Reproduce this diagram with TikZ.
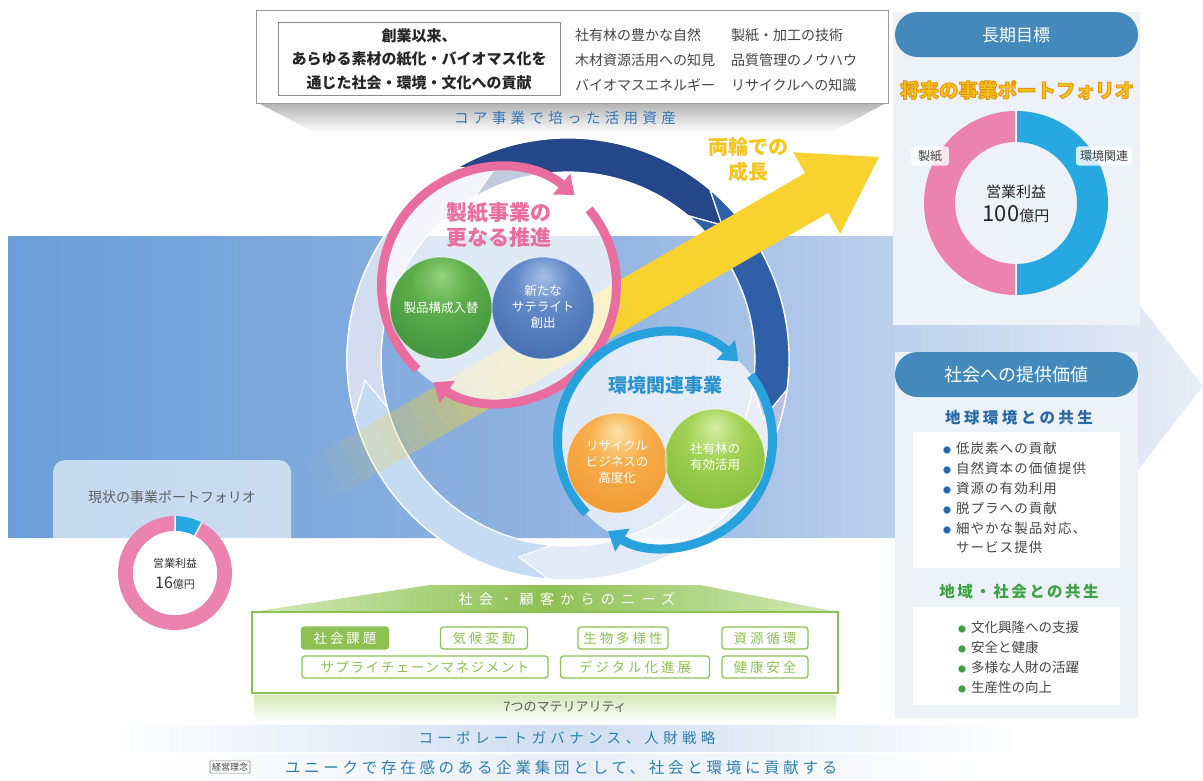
\documentclass[tikz,border=0pt]{standalone}
\usepackage{fontspec}
\setmainfont{Noto Sans CJK JP}
\usetikzlibrary{arrows.meta}

\definecolor{bandL}{HTML}{6A9ED8}
\definecolor{bandM}{HTML}{93B5E2}
\definecolor{bandR}{HTML}{E9EEF7}
\definecolor{ringfill}{HTML}{DAE5F5}
\definecolor{navy}{HTML}{23478A}
\definecolor{midblue}{HTML}{2F60A7}
\definecolor{lavender}{HTML}{B7C0E1}
\definecolor{paleblue}{HTML}{C4DBF3}
\definecolor{palelav}{HTML}{D4DCEF}
\definecolor{yel}{HTML}{F8D22E}
\definecolor{pinkc}{HTML}{E96D9E}
\definecolor{cyanc}{HTML}{28A2DC}
\definecolor{envtitle}{HTML}{2C93CF}
\definecolor{pill}{HTML}{4389BB}
\definecolor{panel}{HTML}{EDF1F8}
\definecolor{gold}{HTML}{F5C51E}
\definecolor{donutpink}{HTML}{EC82AE}
\definecolor{donutblue}{HTML}{28A8E0}
\definecolor{deepblue}{HTML}{2A69A5}
\definecolor{leaf}{HTML}{8DC153}
\definecolor{leaflight}{HTML}{D3E9B8}
\definecolor{leafdark}{HTML}{3EA244}
\definecolor{tealtext}{HTML}{2E80AB}
\definecolor{coretext}{HTML}{3577B7}
\definecolor{graytext}{HTML}{454545}
\definecolor{sgA}{HTML}{94D27C}
\definecolor{sgB}{HTML}{5DAE4A}
\definecolor{sgC}{HTML}{2C8036}
\definecolor{sbA}{HTML}{A5BFE6}
\definecolor{sbB}{HTML}{6189C8}
\definecolor{sbC}{HTML}{2F599D}
\definecolor{soA}{HTML}{FDE2A6}
\definecolor{soB}{HTML}{F7AE4C}
\definecolor{soC}{HTML}{EC8A1D}
\definecolor{slA}{HTML}{D6EEA4}
\definecolor{slB}{HTML}{A2D152}
\definecolor{slC}{HTML}{6CAE2B}

% sphere shadings with the highlight above the centre
\pgfdeclareradialshading{sphgreen}{\pgfpoint{0bp}{16bp}}{color(0bp)=(sgA);color(14bp)=(sgB);color(52bp)=(sgC);color(80bp)=(sgC)}
\pgfdeclareradialshading{sphblue}{\pgfpoint{0bp}{16bp}}{color(0bp)=(sbA);color(14bp)=(sbB);color(52bp)=(sbC);color(80bp)=(sbC)}
\pgfdeclareradialshading{sphorange}{\pgfpoint{0bp}{16bp}}{color(0bp)=(soA);color(14bp)=(soB);color(52bp)=(soC);color(80bp)=(soC)}
\pgfdeclareradialshading{sphlime}{\pgfpoint{0bp}{16bp}}{color(0bp)=(slA);color(14bp)=(slB);color(52bp)=(slC);color(80bp)=(slC)}

\newcommand\fs[2]{\fontsize{#1}{#2}\selectfont}
\newcommand\spaced[2]{{\addfontfeature{LetterSpace=#1}#2}}
\newcommand\bul[1]{\makebox[13pt][l]{\textcolor{#1}{\fontsize{8}{8}\selectfont ●}}}
% filled text with an orange edge (PDF text render mode 2)
\newcommand\edged[1]{\special{pdf:code q 2 Tr 0.9 w 0.89 0.58 0.07 RG}#1\special{pdf:code Q}}
% one arrow segment of the big cycle ring (angles clockwise, y down)
\newcommand\ringarrow[3]{%
  \path[ringseg,#3] (#1:221) arc[start angle=#1, end angle=#2, radius=221]
    -- ({#2+9}:204) -- (#2:187) arc[start angle=#2, end angle=#1, radius=187]
    -- ({#1+9}:204) -- cycle;}

\begin{document}
\begin{tikzpicture}[x=1pt,y=-1pt,
  every node/.style={inner sep=0pt,outer sep=0pt},
  ringseg/.style={draw=white,line width=1.2pt,line join=round},
  tag/.style={draw=leaf,line width=1.3pt,rounded corners=3pt,minimum height=22pt,text=leaf,font=\fs{13.5}{13.5}},
  item/.style={anchor=west,font=\fs{13.5}{13.5},text=graytext},
  pinkarc/.style={pinkc,line width=9pt,-{Triangle[width=26pt,length=17pt]}},
  cyanarc/.style={cyanc,line width=9pt,-{Triangle[width=26pt,length=17pt]}},
  spheretxt/.style={text=white,font=\fs{12.5}{16},align=center}]

\useasboundingbox (0,0) rectangle (1203,780);
\fill[white] (0,0) rectangle (1203,780);

% ---------- background band with its arrow head ----------
\shade[left color=bandL,right color=bandR,middle color=bandM]
  (8,236) -- (1085,236) -- (1203,386) -- (1085,538) -- (8,538) -- cycle;

% ---------- assets box ----------
\shade[top color=black!30,bottom color=white] (258,103) -- (886,103) -- (830,133) -- (316,133) -- cycle;
\node[font=\fs{14.5}{14.5},text=coretext] (coreTitle) at (565,118) {\spaced{30}{コア事業で培った活用資産}};
\node[draw=black!40,line width=0.8pt,fill=white,minimum width=632pt,minimum height=93pt] (assets) at (572,56.5) {};
\node[draw=black!45,line width=0.7pt,minimum width=282pt,minimum height=73pt] (originBox) at (419,59) {};
\node[font=\bfseries\fs{15}{23.5},align=center,text=black!85] (originTxt) at (419,59)
  {創業以来、\\あらゆる素材の紙化・バイオマス化を\\通じた社会・環境・文化への貢献};
\node[anchor=west,font=\fs{14}{14},text=graytext] (a1) at (575,35) {社有林の豊かな自然};
\node[anchor=west,font=\fs{14}{14},text=graytext] (a2) at (575,60) {木材資源活用への知見};
\node[anchor=west,font=\fs{14}{14},text=graytext] (a3) at (575,85) {バイオマスエネルギー};
\node[anchor=west,font=\fs{14}{14},text=graytext] (a4) at (731,35) {製紙・加工の技術};
\node[anchor=west,font=\fs{14}{14},text=graytext] (a5) at (731,60) {品質管理のノウハウ};
\node[anchor=west,font=\fs{14}{14},text=graytext] (a6) at (731,85) {リサイクルへの知識};

% ---------- current portfolio ----------
\begin{scope}
  \clip (0,0) rectangle (1203,538);
  \fill[white,opacity=0.6,rounded corners=12pt] (53,460) rectangle (291,600);
\end{scope}
\node[font=\fs{14}{14},text=black!62] (nowTitle) at (172,497) {現状の事業ポートフォリオ};
\begin{scope}[shift={(175,573)}]
  \fill[donutpink] (-62:57) arc[start angle=-62,end angle=270,radius=57] -- (270:42) arc[start angle=270,end angle=-62,radius=42] -- cycle;
  \fill[donutblue] (-90:57) arc[start angle=-90,end angle=-62,radius=57] -- (-62:42) arc[start angle=-62,end angle=-90,radius=42] -- cycle;
  \draw[white,line width=1.5pt] (-90:42) -- (-90:57) (-62:42) -- (-62:57);
  \fill[white] (0,0) circle[radius=42];
\end{scope}
\node[font=\fs{11}{11},text=black!80] (nowProfit) at (175,563) {営業利益};
\node[font=\fs{16}{16},text=black!80] (nowValue) at (175,583) {16{\fs{11}{11}億円}};

% ---------- big cycle ring ----------
\fill[ringfill,opacity=0.8,even odd rule] (568,359) circle[radius=221] (568,359) circle[radius=187];
\draw[white,line width=1.5pt] (568,359) circle[radius=221] (568,359) circle[radius=187];
\begin{scope}[shift={(568,359)}]
  \ringarrow{95}{165}{fill=paleblue}
  \ringarrow{165}{240}{fill=palelav}
  \ringarrow{240}{310}{fill=navy}
  \ringarrow{310}{368}{fill=midblue}
  \ringarrow{368}{395}{fill=lavender}
\end{scope}

% ---------- growth arrow ----------
\begin{scope}[shift={(879,157)},rotate=30]
  \foreach \i in {0,...,17}{
    \pgfmathsetmacro\xa{-650+\i*20}
    \pgfmathsetmacro\op{(\i+0.5)/18}
    \fill[yel,opacity=\op] (\xa,-23) rectangle ({\xa+20.3},23);
  }
  \fill[yel] (0,0) -- (-72,-47) -- (-72,-23) -- (-290,-23) -- (-290,23) -- (-72,23) -- (-72,47) -- cycle;
\end{scope}
\node[font=\bfseries\fs{20}{25},text=gold,align=center] (growth) at (748,160) {両輪での\\成長};

% ---------- paper business cycle ----------
\fill[white,opacity=0.72] (499,285) circle[radius=118];
\draw[pinkarc] (499,285) ++(134:117.5) arc[start angle=134,end angle=310,radius=117.5];
\draw[pinkarc] (499,285) ++(320:117.5) arc[start angle=320,end angle=484,radius=117.5];
\node[font=\bfseries\fs{21}{25},text=pinkc,align=center] (paperTitle) at (499,225) {製紙事業の\\更なる推進};
\shade[shading=sphgreen] (441,308) circle[radius=51];
\shade[shading=sphblue] (543,308) circle[radius=51];
\draw[white,opacity=0.5,line width=1pt] (441,308) circle[radius=51] (543,308) circle[radius=51];
\node[spheretxt] (mix) at (441,308) {製品構成入替};
\node[spheretxt] (satellite) at (543,307) {新たな\\サテライト\\創出};

% ---------- environmental business cycle ----------
\fill[white,opacity=0.72] (665,440) circle[radius=108];
\draw[cyanarc] (665,440) ++(137:107.5) arc[start angle=137,end angle=313,radius=107.5];
\draw[cyanarc] (665,440) ++(323:107.5) arc[start angle=323,end angle=482,radius=107.5];
\node[font=\bfseries\fs{19}{19},text=envtitle] (envTitle) at (665,385) {環境関連事業};
\shade[shading=sphorange] (617,463) circle[radius=50];
\shade[shading=sphlime] (715,459) circle[radius=50];
\draw[white,opacity=0.5,line width=1pt] (617,463) circle[radius=50] (715,459) circle[radius=50];
\node[spheretxt] (recycle) at (617,462) {リサイクル\\ビジネスの\\高度化};
\node[spheretxt] (forest) at (715,457) {社有林の\\有効活用};

% ---------- long-term goal panel ----------
\fill[panel] (893,12) rectangle (1140,325);
\fill[pill,rounded corners=22.5pt] (895,12) rectangle (1138,57);
\node[font=\fs{17}{17},text=white] (goalTitle) at (1016,35) {長期目標};
\node[font=\bfseries\fs{19.5}{19.5},text=gold] (futureTitle) at (1017,90) {\edged{将来の事業ポートフォリオ}};
\begin{scope}[shift={(1016,203)}]
  \fill[donutpink] (90:92) arc[start angle=90,end angle=270,radius=92] -- (270:61) arc[start angle=270,end angle=90,radius=61] -- cycle;
  \fill[donutblue] (-90:92) arc[start angle=-90,end angle=90,radius=92] -- (90:61) arc[start angle=90,end angle=-90,radius=61] -- cycle;
  \draw[white,line width=2pt] (-90:60) -- (-90:93) (90:60) -- (90:93);
\end{scope}
\node[fill=white,fill opacity=0.8,text opacity=1,rounded corners=3pt,inner xsep=7pt,inner ysep=4pt,font=\fs{12}{12},text=black!75] (labPaper) at (930,156) {製紙};
\node[fill=white,fill opacity=0.8,text opacity=1,rounded corners=3pt,inner xsep=4pt,inner ysep=4pt,font=\fs{12}{12},text=black!75] (labEnv) at (1104,156) {環境関連};
\node[font=\fs{15}{15},text=black!85] (futProfit) at (1016,192) {営業利益};
\node[font=\fs{22}{22},text=black!85] (futValue) at (1016,214) {100{\fs{15}{15}億円}};

% ---------- value to society panel ----------
\fill[panel] (895,352) rectangle (1138,718);
\fill[pill,rounded corners=22.5pt] (895,352) rectangle (1138,397);
\node[font=\fs{18}{18},text=white] (valueTitle) at (1016,375) {社会への提供価値};
\node[font=\bfseries\fs{15.5}{15.5},text=deepblue] (earthTitle) at (1019,418) {\spaced{22}{地球環境との共生}};
\fill[white] (913,432) rectangle (1120,568);
\node[item] (e1) at (943,448) {\bul{deepblue}\spaced{8}{低炭素への貢献}};
\node[item] (e2) at (943,468) {\bul{deepblue}\spaced{8}{自然資本の価値提供}};
\node[item] (e3) at (943,488) {\bul{deepblue}\spaced{8}{資源の有効利用}};
\node[item] (e4) at (943,508) {\bul{deepblue}\spaced{8}{脱プラへの貢献}};
\node[item] (e5) at (943,528) {\bul{deepblue}\spaced{8}{細やかな製品対応、}};
\node[item] (e6) at (956,547) {\spaced{8}{サービス提供}};
\node[font=\bfseries\fs{15.5}{15.5},text=leafdark] (localTitle) at (1019,592) {\spaced{16}{地域・社会との共生}};
\fill[white] (913,607) rectangle (1120,705);
\node[item] (s1) at (958,627) {\bul{leafdark}文化興隆への支援};
\node[item] (s2) at (958,647) {\bul{leafdark}安全と健康};
\node[item] (s3) at (958,667) {\bul{leafdark}多様な人財の活躍};
\node[item] (s4) at (958,687) {\bul{leafdark}生産性の向上};

% ---------- needs of society and customers ----------
\shade[left color=leaflight,right color=leaflight,middle color=leaf] (252,612) -- (430,585) -- (700,585) -- (838,612) -- cycle;
\node[font=\fs{14}{14},text=white] (needsTitle) at (567,599) {\spaced{45}{社会・顧客からのニーズ}};
\draw[leaf,line width=2.5pt,fill=white] (252,612) rectangle (838,693);
\node[tag,fill=leaf,text=white,minimum width=87pt] (t1) at (345,638) {\spaced{22}{社会課題}};
\node[tag,minimum width=87pt] (t2) at (484,638) {\spaced{22}{気候変動}};
\node[tag,minimum width=90pt] (t3) at (623,638) {\spaced{22}{生物多様性}};
\node[tag,minimum width=86pt] (t4) at (765,638) {\spaced{22}{資源循環}};
\node[tag,minimum width=246pt] (t5) at (425,667) {\spaced{12}{サプライチェーンマネジメント}};
\node[tag,minimum width=149pt] (t6) at (635,667) {\spaced{22}{デジタル化進展}};
\node[tag,minimum width=86pt] (t7) at (765,667) {\spaced{22}{健康安全}};
\shade[top color=leaflight,bottom color=white] (254,695) rectangle (836,722);
\node[font=\fs{13}{13},text=black!65] (materiality) at (565,707) {7つのマテリアリティ};

% ---------- governance and philosophy ----------
\shade[left color=white,right color=white,middle color=bandR!70!bandM] (110,725) rectangle (1020,751);
\node[font=\fs{14.5}{14.5},text=tealtext] (gov) at (567,738) {\spaced{30}{コーポレートガバナンス、人財戦略}};
\shade[left color=white,right color=white,middle color=bandR] (150,754) rectangle (980,780);
\node[draw=black!50,fill=white,line width=0.6pt,inner xsep=2pt,inner ysep=2pt,rounded corners=1pt,font=\fs{9}{9},text=black!75] (philoTag) at (230,767) {経営理念};
\node[anchor=west,font=\fs{15.5}{15.5},text=tealtext] (philo) at (285,768) {\spaced{24}{ユニークで存在感のある企業集団として、社会と環境に貢献する}};

\end{tikzpicture}
\end{document}
